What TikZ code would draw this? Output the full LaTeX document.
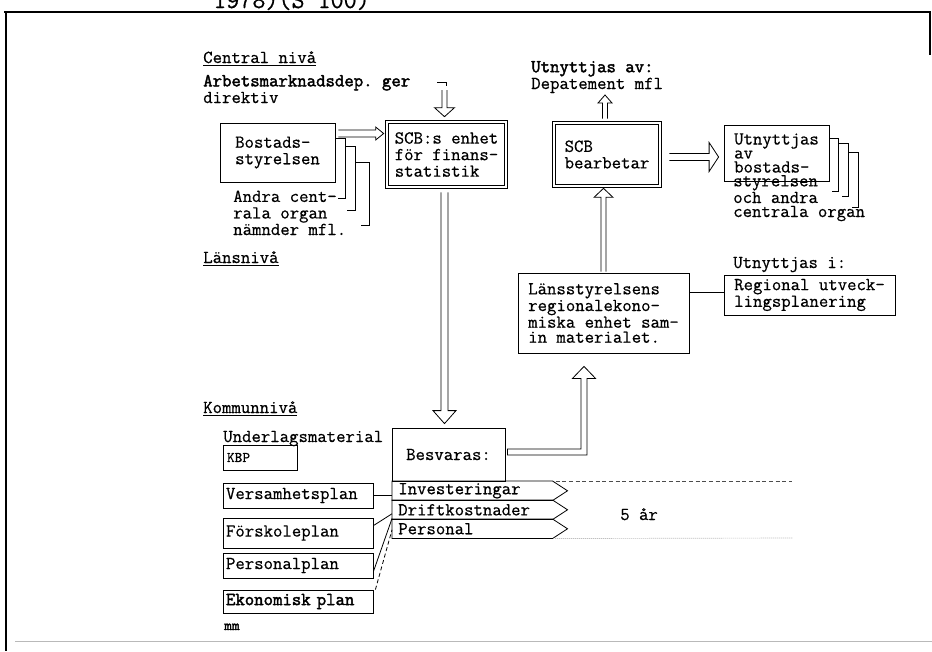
\documentclass[tikz,border=0pt]{standalone}
\usepackage{fontspec}
\setmonofont{Latin Modern Mono}[FakeBold=0.6, BoldFont={Latin Modern Mono}, BoldFeatures={FakeBold=2.2}]
\usetikzlibrary{calc}
\newdimen\pxu \pxu=0.75pt
\newcommand\tf{\ttfamily\fontsize{13.7pt}{12.4pt}\selectfont}
\newcommand\ls[1]{\fontsize{13.7pt}{#1}\selectfont}
\tikzset{
 box/.style={draw, line width=0.6pt, inner sep=0pt, align=left},
 dbox/.style={draw, double, double distance=2pt, line width=0.5pt, inner sep=0pt, align=left},
 arr/.style={draw, line width=0.6pt, line join=miter},
 lbl/.style={inner sep=0pt, anchor=base west, align=left},
 conn/.style={line width=0.6pt},
 band/.style={inner xsep=6*\pxu, inner ysep=0pt, minimum width=160*\pxu, minimum height=19*\pxu, text width=148*\pxu, align=left, anchor=north west},
 planbox/.style={box, inner xsep=3*\pxu, minimum width=150*\pxu, text width=144*\pxu},
}
% vertical hollow arrow: #1 start, #2 tip (only y used), #3 shaft half, #4 head half, #5 head length (px)
\newcommand\varrow[5]{\draw[arr] let \p1=#1, \p2=#2, \n1={ifthenelse(\y2<\y1,1,-1)} in
 (\x1-#3*\pxu,\y1) -- (\x1-#3*\pxu,\y2+\n1*#5*\pxu) -- (\x1-#4*\pxu,\y2+\n1*#5*\pxu) -- (\x1,\y2)
 -- (\x1+#4*\pxu,\y2+\n1*#5*\pxu) -- (\x1+#3*\pxu,\y2+\n1*#5*\pxu) -- (\x1+#3*\pxu,\y1);}
% horizontal hollow arrow
\newcommand\harrow[5]{\draw[arr] let \p1=#1, \p2=#2, \n1={ifthenelse(\x2>\x1,1,-1)} in
 (\x1,\y1+#3*\pxu) -- (\x2-\n1*#5*\pxu,\y1+#3*\pxu) -- (\x2-\n1*#5*\pxu,\y1+#4*\pxu) -- (\x2,\y1)
 -- (\x2-\n1*#5*\pxu,\y1-#4*\pxu) -- (\x2-\n1*#5*\pxu,\y1-#3*\pxu) -- (\x1,\y1-#3*\pxu);}
\begin{document}
\begin{tikzpicture}[x=0.75pt,y=-0.75pt, every node/.style={font=\tf}]
\useasboundingbox (0,0) rectangle (932,651);
% partial title and frame
\node[lbl, font=\ttfamily\fontsize{19pt}{20pt}\selectfont] (title) at (213,8) {1978)(S 100)};
\draw[line width=1.6pt] (4,12) -- (931,12);
\draw[line width=2.2pt] (6,12) -- (6,651);
\draw[line width=0.8pt] (930,12) -- (930,55);
\draw[gray!55, line width=0.5pt] (15,641) -- (932,641);

% level headings
\node[lbl] (central) at (203,63) {\underline{Central nivå}};
\node[lbl] (lansniva) at (203,263) {\underline{Länsnivå}};
\node[lbl] (kommun) at (203,413) {\underline{Kommunnivå}};

\node[lbl, font=\tf\ls{11.25pt}] (dir) at (203,103) {\textbf{Arbetsmarknadsdep. ger}\\direktiv};
\draw[conn] (437,82) -- (446,82) -- (446,86);
\coordinate (dirtop) at (444.5,90);

% central boxes
\node[box, minimum width=115*\pxu, minimum height=59*\pxu] (bost) at (277.5,152.5) {Bostads-\\styrelsen};
\draw[conn] (335,138) -- (345,138) -- (345,198) -- (338,198);
\draw[conn] (345,146) -- (355,146) -- (355,210) -- (347,210);
\draw[conn] (355,162) -- (369,162) -- (369,225) -- (361,225);
\node[lbl] (andra) at (233,235) {Andra cent-\\rala organ\\nämnder mfl.};

\node[dbox, minimum width=119*\pxu, minimum height=65*\pxu] (scb) at (446.5,154.5) {SCB:s enhet\\för finans-\\statistik};

\node[dbox, minimum width=106*\pxu, minimum height=63*\pxu] (bear) at (607,154.5) {SCB\\bearbetar};
\node[lbl, font=\tf\ls{10.5pt}] (utnav) at (531,89) {\textbf{Utnyttjas av:}\\Depatement mfl};
\coordinate (beartip) at (605,95);

\node[box, minimum width=105*\pxu, minimum height=56*\pxu, font=\tf\ls{10.5pt}] (utnbox) at (776.5,153) {Utnyttjas\\av\\bostads-};
\node[lbl, font=\tf\ls{10.5pt}] (utn) at (733,217) {styrelsen\\och andra\\centrala organ};
\draw[conn] (829,138) -- (838,138) -- (838,191) -- (832,191);
\draw[conn] (838,143) -- (848,143) -- (848,196) -- (842,196);
\draw[conn] (848,152) -- (858,152) -- (858,207) -- (852,207);

% county level
\node[box, minimum width=171*\pxu, minimum height=80*\pxu, font=\tf\ls{11.25pt}] (lans) at (603.5,313) {Länsstyrelsens\\regionalekono-\\miska enhet sam-\\in materialet.};
\node[lbl] (utni) at (733,268) {Utnyttjas i:};
\node[box, minimum width=171*\pxu, minimum height=40*\pxu, font=\tf\ls{10.5pt}] (regional) at (809.5,295) {Regional utveck-\\lingsplanering};
\coordinate (lansR) at ($(lans.east)+(0,-21)$);
\draw[conn] (lansR) -- (lansR -| regional.west);

% municipal level
\node[lbl] (underlag) at (223,442) {Underlagsmaterial};
\node[box, minimum width=74*\pxu, minimum height=25*\pxu, inner xsep=4*\pxu, text width=66*\pxu, font=\ttfamily\fontsize{11pt}{12pt}\selectfont] (kbp) at (260,457.5) {KBP};
\node[planbox, minimum height=25*\pxu] (vers) at (298,495.5) {Versamhetsplan};
\node[planbox, minimum height=30*\pxu] (fors) at (298,533) {Förskoleplan};
\node[planbox, minimum height=25*\pxu] (pers) at (298,565.5) {Personalplan};
\node[planbox, minimum height=23*\pxu] (eko) at (298,601.5) {\textbf{Ekonomisk plan}};
\node[lbl, font=\ttfamily\fontsize{11pt}{12pt}\selectfont\bfseries] (mm) at (224,630) {mm};

\node[box, minimum width=113*\pxu, minimum height=53*\pxu] (besv) at (448.5,454.5) {Besvaras:};

\node[band] (inv) at (392,481) {Investeringar};
\node[band] (drift) at (392,500) {Driftkostnader};
\node[band] (persb) at (392,519) {Personal};
\foreach \b in {inv,drift,persb}{
 \draw[conn] (\b.north west) -- (\b.north east) -- ($(\b.east)+(15,0)$) -- (\b.south east) -- (\b.south west) -- cycle;
}

\coordinate (d1) at (792,481);
\coordinate (d2) at (792,538);
\draw[densely dashed, line width=0.5pt, black!70] ($(inv.north east)+(3,0)$) -- (d1);
\draw[densely dotted, line width=0.5pt, black!70] ($(persb.south east)+(3,0)$) -- (d2);
\node[lbl] (fem) at (620,520) {5 år};

\draw[conn] (vers.east) -- (vers.east -| inv.west);
\draw[conn] ($(fors.north east)+(0,8)$) -- ($(drift.west)+(0,4)$);
\draw[conn] ($(pers.north east)+(0,19)$) -- ($(drift.south west)+(0,-1)$);
\draw[conn, densely dashed] ($(eko.north east)+(2,0)$) -- ($(persb.west)+(0,1)$);

% hollow arrows
\varrow{(dirtop)}{($(scb.north)+(-2,-5)$)}{2.5}{10}{9}
\harrow{($(bost.east)+(3,-19)$)}{($(scb.west)+(-3,0)$)}{3.5}{6.5}{8}
\varrow{($(scb.south)+(-2,5)$)}{($(besv.north)+(0,-4)$)}{3.5}{11.5}{13}
\varrow{($(lans.north)+(0,-1)$)}{($(bear.south)+(0,2)$)}{2.5}{9.5}{9}
\varrow{($(bear.north)+(-2,-4)$)}{(beartip)}{2.5}{7}{8}
\harrow{($(bear.east)+(9,2.5)$)}{($(utnbox.west)+(-5,0)$)}{3.5}{14.5}{9.5}
\draw[arr] let \p1=($(besv.east)+(2,-2.5)$), \p2=($(lans.south)+(-19.5,13)$) in
 (\x1,\y1+3*\pxu) -- (\x2-3*\pxu,\y1+3*\pxu) -- (\x2-3*\pxu,\y2-12*\pxu) -- (\x2-11.5*\pxu,\y2-12*\pxu) -- (\x2,\y2)
 -- (\x2+11.5*\pxu,\y2-12*\pxu) -- (\x2+3*\pxu,\y2-12*\pxu) -- (\x2+3*\pxu,\y1-3*\pxu) -- (\x1,\y1-3*\pxu) -- cycle;
\end{tikzpicture}
\end{document}
